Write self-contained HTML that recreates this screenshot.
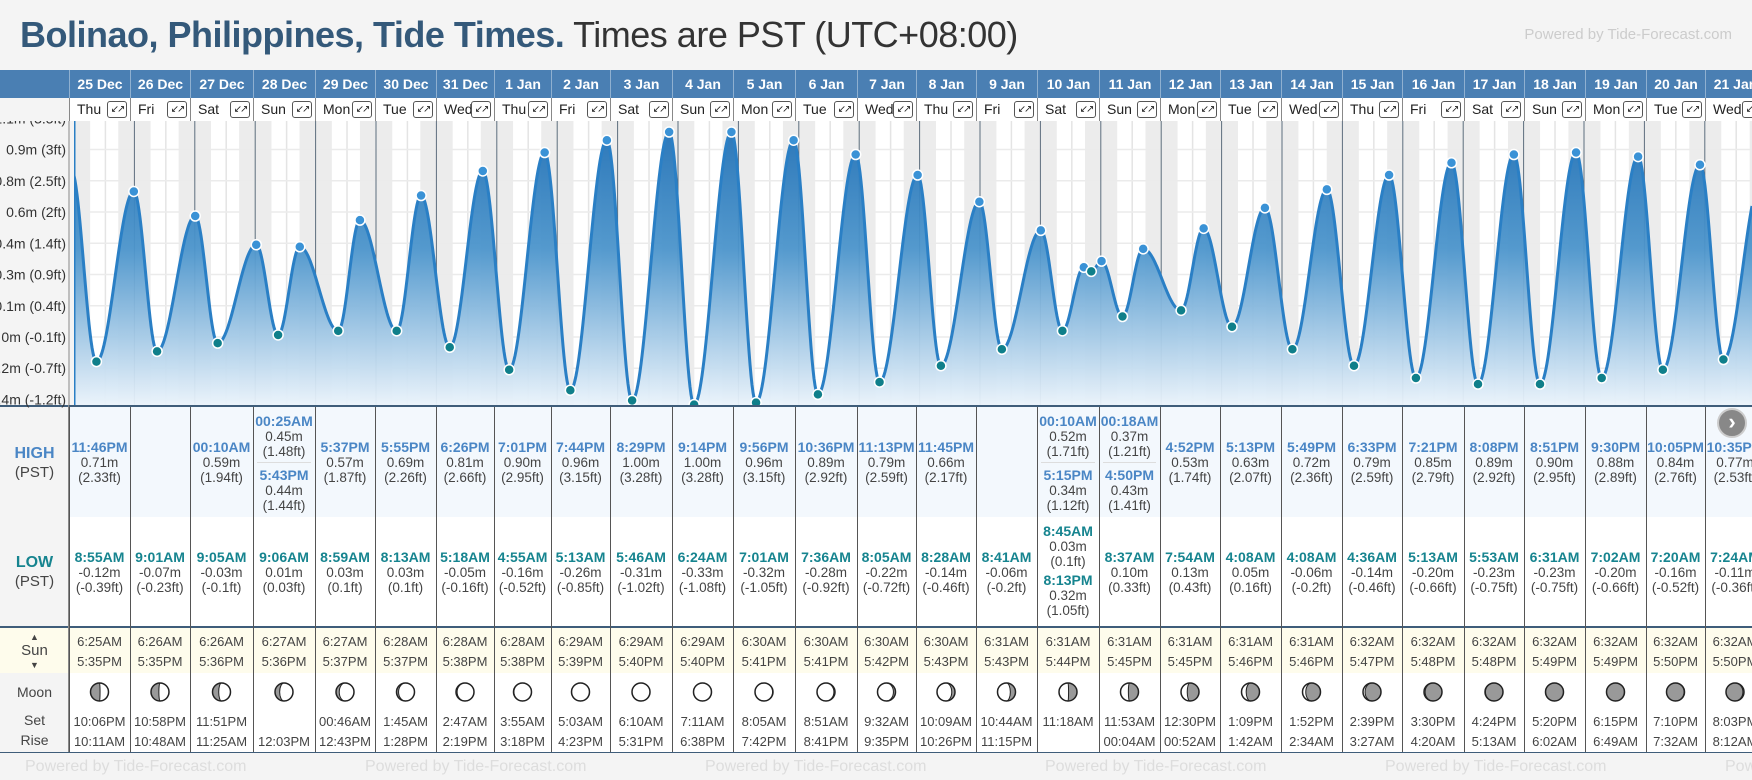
<!DOCTYPE html>
<html><head><meta charset="utf-8">
<style>
*{box-sizing:border-box;margin:0;padding:0}
body{width:1752px;height:780px;overflow:hidden;background:#f4f4f4;font-family:"Liberation Sans",Arial,sans-serif;position:relative}
.abs{position:absolute}
#title{left:20px;top:14px;font-size:36px;letter-spacing:-0.5px;white-space:nowrap}
#title b{color:#34597a}
#title span{color:#333}
#pow{right:20px;top:26px;font-size:15px;color:#ccc}
.cell{position:absolute;text-align:center;font-size:13.5px;color:#444;line-height:15px}
.ht{color:#4a86c5;font-weight:bold;font-size:14px}
.lt{color:#16848f;font-weight:bold;font-size:14px}
.lab{position:absolute;left:0;width:69px;text-align:center;color:#444;font-size:15px}
</style></head><body>
<div id="title" class="abs"><b>Bolinao, Philippines, Tide Times.</b> <span>Times are PST (UTC+08:00)</span></div>
<div id="pow" class="abs">Powered by Tide-Forecast.com</div>
<div id="root"></div>
<script>
const dates=["25 Dec","26 Dec","27 Dec","28 Dec","29 Dec","30 Dec","31 Dec","1 Jan","2 Jan","3 Jan","4 Jan","5 Jan","6 Jan","7 Jan","8 Jan","9 Jan","10 Jan","11 Jan","12 Jan","13 Jan","14 Jan","15 Jan","16 Jan","17 Jan","18 Jan","19 Jan","20 Jan","21 Jan"];
const weekdays=["Thu","Fri","Sat","Sun","Mon","Tue","Wed","Thu","Fri","Sat","Sun","Mon","Tue","Wed","Thu","Fri","Sat","Sun","Mon","Tue","Wed","Thu","Fri","Sat","Sun","Mon","Tue","Wed"];
const highs=[[["11:46PM",0.71,"2.33"]],[],[["00:10AM",0.59,"1.94"]],[["00:25AM",0.45,"1.48"],["5:43PM",0.44,"1.44"]],[["5:37PM",0.57,"1.87"]],[["5:55PM",0.69,"2.26"]],[["6:26PM",0.81,"2.66"]],[["7:01PM",0.90,"2.95"]],[["7:44PM",0.96,"3.15"]],[["8:29PM",1.00,"3.28"]],[["9:14PM",1.00,"3.28"]],[["9:56PM",0.96,"3.15"]],[["10:36PM",0.89,"2.92"]],[["11:13PM",0.79,"2.59"]],[["11:45PM",0.66,"2.17"]],[],[["00:10AM",0.52,"1.71"],["5:15PM",0.34,"1.12"]],[["00:18AM",0.37,"1.21"],["4:50PM",0.43,"1.41"]],[["4:52PM",0.53,"1.74"]],[["5:13PM",0.63,"2.07"]],[["5:49PM",0.72,"2.36"]],[["6:33PM",0.79,"2.59"]],[["7:21PM",0.85,"2.79"]],[["8:08PM",0.89,"2.92"]],[["8:51PM",0.90,"2.95"]],[["9:30PM",0.88,"2.89"]],[["10:05PM",0.84,"2.76"]],[["10:35PM",0.77,"2.53"]]];
const lows=[[["8:55AM",-0.12,"-0.39"]],[["9:01AM",-0.07,"-0.23"]],[["9:05AM",-0.03,"-0.1"]],[["9:06AM",0.01,"0.03"]],[["8:59AM",0.03,"0.1"]],[["8:13AM",0.03,"0.1"]],[["5:18AM",-0.05,"-0.16"]],[["4:55AM",-0.16,"-0.52"]],[["5:13AM",-0.26,"-0.85"]],[["5:46AM",-0.31,"-1.02"]],[["6:24AM",-0.33,"-1.08"]],[["7:01AM",-0.32,"-1.05"]],[["7:36AM",-0.28,"-0.92"]],[["8:05AM",-0.22,"-0.72"]],[["8:28AM",-0.14,"-0.46"]],[["8:41AM",-0.06,"-0.2"]],[["8:45AM",0.03,"0.1"],["8:13PM",0.32,"1.05"]],[["8:37AM",0.10,"0.33"]],[["7:54AM",0.13,"0.43"]],[["4:08AM",0.05,"0.16"]],[["4:08AM",-0.06,"-0.2"]],[["4:36AM",-0.14,"-0.46"]],[["5:13AM",-0.20,"-0.66"]],[["5:53AM",-0.23,"-0.75"]],[["6:31AM",-0.23,"-0.75"]],[["7:02AM",-0.20,"-0.66"]],[["7:20AM",-0.16,"-0.52"]],[["7:24AM",-0.11,"-0.36"]]];
const sunrise=["6:25AM","6:26AM","6:26AM","6:27AM","6:27AM","6:28AM","6:28AM","6:28AM","6:29AM","6:29AM","6:29AM","6:30AM","6:30AM","6:30AM","6:30AM","6:31AM","6:31AM","6:31AM","6:31AM","6:31AM","6:31AM","6:32AM","6:32AM","6:32AM","6:32AM","6:32AM","6:32AM","6:32AM"];
const sunset=["5:35PM","5:35PM","5:36PM","5:36PM","5:37PM","5:37PM","5:38PM","5:38PM","5:39PM","5:40PM","5:40PM","5:41PM","5:41PM","5:42PM","5:43PM","5:43PM","5:44PM","5:45PM","5:45PM","5:46PM","5:46PM","5:47PM","5:48PM","5:48PM","5:49PM","5:49PM","5:50PM","5:50PM"];
const moonSet=["10:06PM","10:58PM","11:51PM","","00:46AM","1:45AM","2:47AM","3:55AM","5:03AM","6:10AM","7:11AM","8:05AM","8:51AM","9:32AM","10:09AM","10:44AM","11:18AM","11:53AM","12:30PM","1:09PM","1:52PM","2:39PM","3:30PM","4:24PM","5:20PM","6:15PM","7:10PM","8:03PM"];
const moonRise=["10:11AM","10:48AM","11:25AM","12:03PM","12:43PM","1:28PM","2:19PM","3:18PM","4:23PM","5:31PM","6:38PM","7:42PM","8:41PM","9:35PM","10:26PM","11:15PM","","00:04AM","00:52AM","1:42AM","2:34AM","3:27AM","4:20AM","5:13AM","6:02AM","6:49AM","7:32AM","8:12AM"];
const moonPhase=[0.24,0.27,0.30,0.33,0.36,0.39,0.42,0.45,0.48,0.50,0.52,0.55,0.58,0.61,0.64,0.68,0.74,0.77,0.80,0.83,0.86,0.89,0.92,0.95,0.99,0.02,0.05,0.08];
const tickLabels=["-0.4m (-1.2ft)","-0.2m (-0.7ft)","0m (-0.1ft)","0.1m (0.4ft)","0.3m (0.9ft)","0.4m (1.4ft)","0.6m (2ft)","0.8m (2.5ft)","0.9m (3ft)","1.1m (3.5ft)"];
const tickValues=[-0.3048,-0.1524,0,0.1524,0.3048,0.4572,0.6096,0.762,0.9144,1.0668];
const startExtreme=[-0.05,0.82];

const colB=[69,130,190,253,315,375,436,494,551,610,672,733,795,857,916,976,1037,1099,1160,1220,1281,1342,1402,1464,1524,1585,1646,1705,1765];
const CX0=74,DAYW=60.4,CT=121,CB=405;
const xT=d=>CX0+d*DAYW;
const yM=m=>337-m*205;
function hrs(s){let m=s.match(/(\d+):(\d+)(AM|PM)/);let h=+m[1]%12;if(m[3]=="PM")h+=12;return h+ +m[2]/60;}
const root=document.getElementById('root');
const NS="http://www.w3.org/2000/svg";
function mk(tag,attrs,parent){const e=document.createElementNS(NS,tag);for(const k in attrs)e.setAttribute(k,attrs[k]);parent.appendChild(e);return e;}
function div(cls,style,html,parent){const d=document.createElement('div');d.className=cls;d.style.cssText=style;d.innerHTML=html;(parent||root).appendChild(d);return d;}

let bg;
bg=div('abs','left:0;top:70px;width:1752px;height:28px;background:#4a7fb3','');


bg=div('abs','left:69px;top:98px;width:1683px;height:23px;background:#fff','');


bg=div('abs','left:69px;top:407px;width:1683px;height:110px;background:#f3f8fd','');


bg=div('abs','left:69px;top:517px;width:1683px;height:109px;background:#fff','');


bg=div('abs','left:0;top:405px;width:1752px;height:2px;background:#3f5d7a','');


bg=div('abs','left:0;top:626px;width:1752px;height:2px;background:#3f5d7a','');


bg=div('abs','left:0;top:628px;width:1752px;height:45px;background:#fefcec','');


bg=div('abs','left:69px;top:673px;width:1683px;height:79px;background:#fff','');


bg=div('abs','left:0;top:752px;width:1752px;height:1px;background:#3f5d7a','');


bg=div('abs','left:68px;top:98px;width:1px;height:654px;background:#888','');

const svg=mk('svg',{width:1752,height:780,style:'position:absolute;left:0;top:0'},root);


const defs=mk('defs',{},svg);
const g1=mk('linearGradient',{id:'fillg',x1:0,y1:CT,x2:0,y2:CB,gradientUnits:'userSpaceOnUse'},defs);
mk('stop',{offset:'0','stop-color':'#1f6fb5'},g1);
mk('stop',{offset:'0.45','stop-color':'#4c95cc'},g1);
mk('stop',{offset:'1','stop-color':'#eaf3fb'},g1);
const clip=mk('clipPath',{id:'cclip'},defs);
mk('rect',{x:CX0,y:CT,width:1752-CX0,height:CB-CT},clip);
const cg=mk('g',{'clip-path':'url(#cclip)'},svg);
mk('rect',{x:CX0,y:CT,width:1752-CX0,height:CB-CT,fill:'#fff'},cg);
for(let i=0;i<dates.length;i++){
  const sr=hrs(sunrise[i])/24,ss=hrs(sunset[i])/24;
  const n1=mk('rect',{x:xT(i),y:CT,width:sr*DAYW,height:CB-CT,fill:'#ececec'},cg);
  
  
  const n2=mk('rect',{x:xT(i+ss),y:CT,width:(1-ss)*DAYW,height:CB-CT,fill:'#ececec'},cg);
  
  
  mk('line',{x1:xT(i+0.52),x2:xT(i+0.52),y1:CT,y2:CB,stroke:'#e4e4e4','stroke-width':1.5},cg);
}
tickValues.forEach(v=>mk('line',{x1:CX0,x2:1752,y1:yM(v),y2:yM(v),stroke:'#ebebeb','stroke-width':1.5},cg));
for(let i=1;i<dates.length+1;i++){
  const l=mk('line',{x1:xT(i),x2:xT(i),y1:CT,y2:CB,stroke:'#5d6e7e','stroke-width':1},cg);
  
  
}
let ext=[{t:startExtreme[0],v:startExtreme[1],h:1,skip:1}];
for(let i=0;i<dates.length;i++){
  highs[i].forEach(e=>ext.push({t:i+hrs(e[0])/24,v:e[1],h:1}));
  lows[i].forEach(e=>ext.push({t:i+hrs(e[0])/24,v:e[1],h:0}));
}
ext.sort((a,b)=>a.t-b.t);
ext.push({t:28.5,v:-0.1,h:0,skip:1});
function tideAt(t){
  for(let k=0;k<ext.length-1;k++){const a=ext[k],b=ext[k+1];
    if(t>=a.t&&t<=b.t){const f=(t-a.t)/(b.t-a.t);return a.v+(b.v-a.v)*(1-Math.cos(Math.PI*f))/2;}}
  return ext[ext.length-1].v;
}
let pts=[];
for(let x=CX0;x<=1752;x+=1){pts.push([x,yM(tideAt((x-CX0)/DAYW))]);}
let dLine='M'+pts.map(p=>p[0]+','+p[1].toFixed(1)).join('L');
const area=mk('path',{d:dLine+`L1752,${CB}L${CX0},${CB}Z`,fill:'url(#fillg)',opacity:0.95},cg);


const line=mk('path',{d:dLine,fill:'none',stroke:'#2a7fc5','stroke-width':3},cg);


mk('line',{x1:CX0,x2:CX0,y1:CT,y2:CB,stroke:'#2a7fc5','stroke-width':3},cg);
ext.forEach(e=>{if(e.skip)return;
  const c=mk('circle',{cx:xT(e.t),cy:yM(e.v),r:5,fill:e.h?'#3a92d6':'#0f7f8a',stroke:'#fff','stroke-width':1.5},cg);
  
  
});
mk('rect',{x:0,y:CT,width:69,height:CB-CT,fill:'#f4f4f4'},svg);
mk('line',{x1:69,x2:69,y1:CT,y2:CB,stroke:'#888','stroke-width':1},svg);
tickValues.forEach((v,i)=>{const t=mk('text',{x:66,y:yM(v)+5,'text-anchor':'end','font-size':14,fill:'#333','font-family':'Liberation Sans, sans-serif'},svg);t.textContent=tickLabels[i];
  
  });
mk('rect',{x:0,y:98,width:69,height:23,fill:'#f4f4f4'},svg);

for(let i=0;i<dates.length;i++){
  const L=colB[i],W=colB[i+1]-colB[i];
  let d=div('abs',`left:${L}px;top:70px;width:${W}px;height:28px;color:#fff;font-weight:bold;font-size:14px;text-align:center;line-height:28px;border-left:1px solid #8fb0d0`,dates[i]);
  
  
  d=div('abs',`left:${L}px;top:98px;width:${W}px;height:23px;border-left:1px solid #888;font-size:14px;color:#222;line-height:23px;padding-left:7px`,weekdays[i]+`<span style="position:absolute;right:3px;top:3px;width:20px;height:17px;border:1px solid #555;border-radius:3px;font-size:10px;line-height:15px;text-align:center;letter-spacing:-2px">&#8601;&#8599;</span>`);
  
  
  div('abs',`left:${L}px;top:407px;width:1px;height:345px;background:#555`,'');
  const H=highs[i];
  if(H.length==1){const e=H[0];div('cell',`left:${L}px;top:440px;width:${W}px`,`<div class="ht">${e[0]}</div><div>${e[1].toFixed(2)}m</div><div>(${e[2]}ft)</div>`);}
  else if(H.length==2){let h='';H.forEach((e,k)=>{h+=`<div style="${k?'border-top:1px solid #ddd;margin:3px 4px 0;padding-top:5px':''}"><div class="ht">${e[0]}</div><div>${e[1].toFixed(2)}m</div><div>(${e[2]}ft)</div></div>`;});div('cell',`left:${L}px;top:414px;width:${W}px`,h);}
  const Lw=lows[i];
  if(Lw.length==1){const e=Lw[0];div('cell',`left:${L}px;top:550px;width:${W}px`,`<div class="lt">${e[0]}</div><div>${e[1].toFixed(2)}m</div><div>(${e[2]}ft)</div>`);}
  else{let h='';Lw.forEach((e,k)=>{h+=`<div style="${k?'margin-top:4px':''}"><div class="lt">${e[0]}</div><div>${e[1].toFixed(2)}m</div><div>(${e[2]}ft)</div></div>`;});div('cell',`left:${L}px;top:524px;width:${W}px`,h);}
  d=div('cell',`left:${L}px;top:632px;width:${W}px;line-height:20px;font-size:13px`,`${sunrise[i]}<br>${sunset[i]}`);
  
  
  d=div('cell',`left:${L}px;top:712px;width:${W}px;line-height:20px;font-size:13px`,`${moonSet[i]||'&nbsp;'}<br>${moonRise[i]||'&nbsp;'}`);
  
  
  const cx=L+W/2,cy=692,r=9,p=moonPhase[i];
  const mg=mk('g',{},svg);
  
  
  mk('circle',{cx,cy,r,fill:'#999'},mg);
  const k=Math.cos(2*Math.PI*p),rx=Math.max(0.01,Math.abs(k)*r);let dd;
  if(p<0.5){dd=`M${cx},${cy-r}A${r},${r} 0 0 1 ${cx},${cy+r}A${rx},${r} 0 0 ${k>0?0:1} ${cx},${cy-r}Z`;}
  else{dd=`M${cx},${cy-r}A${r},${r} 0 0 0 ${cx},${cy+r}A${rx},${r} 0 0 ${k>0?1:0} ${cx},${cy-r}Z`;}
  mk('path',{d:dd,fill:'#fff',stroke:'#222','stroke-width':1},mg);
  mk('circle',{cx,cy,r,fill:'none',stroke:'#222','stroke-width':1.5},mg);
}
let lb;
lb=div('lab','top:444px;line-height:19px',`<div style="color:#4a86c5;font-weight:bold;font-size:16px">HIGH</div><div>(PST)</div>`);

lb=div('lab','top:553px;line-height:19px',`<div style="color:#16848f;font-weight:bold;font-size:16px">LOW</div><div>(PST)</div>`);

lb=div('lab','top:631px;line-height:12px;font-size:15px',`<div style="font-size:9px">&#9650;</div><div style="line-height:16px">Sun</div><div style="font-size:9px">&#9660;</div>`);

lb=div('lab','top:682px;line-height:20px;font-size:14px','Moon<div style="margin-top:8px">Set</div><div>Rise</div>');

lb=div('abs','left:1717px;top:408px;width:30px;height:30px;border-radius:50%;background:#888;border:2px solid #ccc;color:#fff;font-size:22px;line-height:24px;text-align:center;font-weight:bold','&#8250;');

let f=div('abs','left:0;top:753px;width:1752px;height:27px;background:#f4f4f4;white-space:nowrap;overflow:hidden;color:#ddd;font-size:16px;line-height:27px','');

let s='';for(let i=0;i<7;i++)s+=`<span style="display:inline-block;width:340px">Powered by Tide-Forecast.com</span>`;
f.innerHTML=`<div style="margin-left:-315px">${s}</div>`;
</script>
</body></html>
